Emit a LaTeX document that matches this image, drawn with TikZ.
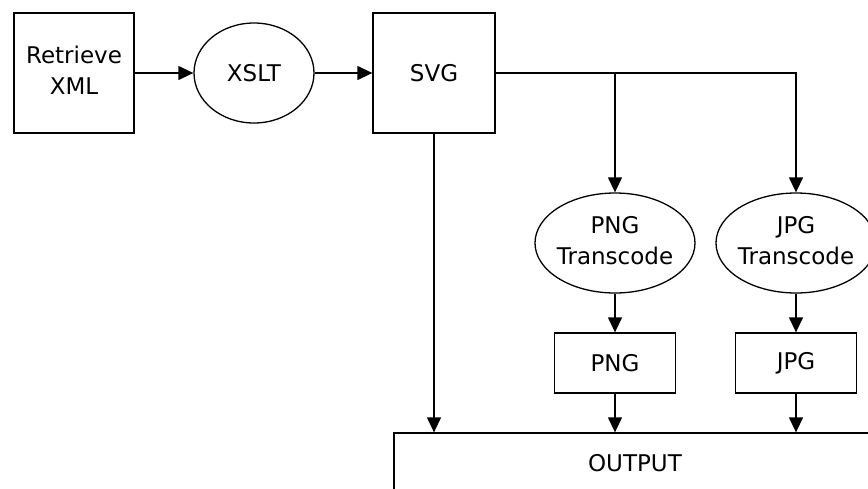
\documentclass[tikz,border=0pt]{standalone}
\usepackage{fontspec}
\setmainfont{DejaVu Sans}
\usetikzlibrary{arrows.meta,shapes.geometric}
\begin{document}
\begin{tikzpicture}[x=1pt,y=-1pt,
  every node/.style={font=\fontsize{23}{31}\selectfont, align=center, inner sep=0pt, line width=1.3pt},
  rbox/.style={draw, rectangle},
  ell/.style={draw, ellipse},
  lbl/.style={},
  conn/.style={line width=1.3pt, -{Triangle[length=15pt,width=14pt]}},
  plain/.style={line width=1.3pt}
]
\useasboundingbox (0,0) rectangle (868,488);
\node[rbox, minimum width=120pt, minimum height=120pt] (ret) at (74,73) {};
\node[lbl] (retl) at (74,70) {Retrieve\\XML};
\node[ell, minimum width=120pt, minimum height=100pt] (xslt) at (254,73) {};
\node[lbl] (xsltl) at (xslt) {XSLT};
\node[rbox, minimum width=122pt, minimum height=120pt] (svg) at (434,73) {SVG};
\node[ell, minimum width=160pt, minimum height=100pt] (pngt) at (615,243) {};
\node[lbl] (pngtl) at (615,241) {PNG\\Transcode};
\node[ell, minimum width=160pt, minimum height=100pt] (jpgt) at (796,243) {};
\node[lbl] (jpgtl) at (796,241) {JPG\\Transcode};
\node[rbox, minimum width=121pt, minimum height=60pt] (png) at (615,363) {PNG};
\node[rbox, minimum width=121pt, minimum height=60pt] (jpg) at (796,363) {JPG};
\node[rbox, minimum width=482pt, minimum height=60pt] (out) at (635,463) {OUTPUT};
\coordinate (split) at (pngt.north |- svg.east);
\draw[conn] (ret) -- (xslt);
\draw[conn] (xslt) -- (svg);
\draw[conn] (svg.east) -- (jpgt.north |- svg.east) -- (jpgt.north);
\draw[conn] (split) -- (pngt.north);
\draw[conn] (svg.south) -- (svg.south |- out.north);
\draw[conn] (pngt) -- (png);
\draw[conn] (jpgt) -- (jpg);
\draw[conn] (png.south) -- (png.south |- out.north);
\draw[conn] (jpg.south) -- (jpg.south |- out.north);
\end{tikzpicture}
\end{document}
